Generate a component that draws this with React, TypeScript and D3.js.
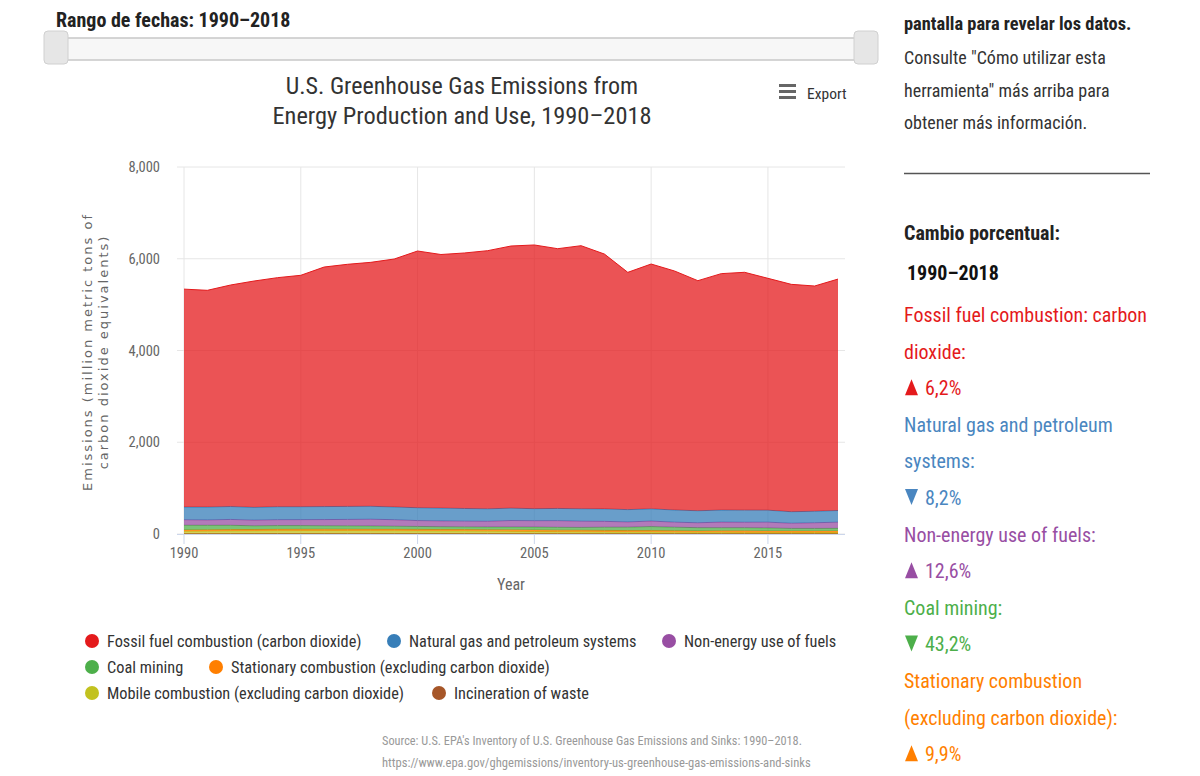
import React from "react";
import * as d3 from "d3";

// Emissions in million metric tons CO2 equivalent, 1990–2018
const years = d3.range(1990, 2019);

const fossilFuelCO2 = [4750, 4725, 4829, 4934, 4993, 5045, 5222, 5277, 5318, 5405, 5596, 5528, 5569, 5627, 5714, 5748, 5662, 5735, 5555, 5172, 5337, 5210, 5015, 5154, 5184, 5054, 4956, 4910, 5045];
const naturalGasPetroleum = [277, 280, 282, 278, 282, 281, 283, 284, 282, 277, 280, 279, 276, 272, 270, 262, 266, 270, 272, 268, 266, 265, 262, 262, 264, 261, 251, 251, 254];
const nonEnergyUse = [120, 117, 127, 124, 129, 130, 135, 140, 146, 142, 128, 126, 125, 124, 141, 138, 145, 136, 127, 114, 120, 110, 107, 122, 119, 126, 113, 123, 135];
const coalMining = [101, 98, 94, 80, 82, 80, 75, 74, 74, 69, 64, 63, 60, 60, 62, 64, 62, 62, 70, 75, 87, 76, 70, 68, 69, 66, 57, 58, 57];
const stationaryCombustion = [30.4, 30.0, 30.6, 30.6, 30.6, 31.0, 31.8, 31.4, 31.0, 31.7, 33.1, 32.2, 32.0, 32.8, 33.5, 33.5, 32.4, 33.0, 33.2, 31.5, 33.0, 32.5, 31.0, 32.5, 33.0, 32.0, 31.5, 31.5, 33.4];
const mobileCombustion = [51, 53, 56, 58, 60, 61, 61, 60, 59, 58, 56, 53, 51, 48, 45, 42, 39, 36, 33, 31, 30, 28, 26, 25, 24, 23, 22, 21, 21];
const incineration = [8.4, 8.9, 9.5, 10.0, 10.6, 11.2, 11.8, 12.4, 11.9, 11.4, 11.6, 11.3, 12.4, 12.2, 12.1, 12.6, 12.7, 12.6, 12.3, 12.0, 11.9, 11.8, 11.1, 11.6, 11.4, 11.4, 11.3, 11.4, 11.6];

const seriesNames = [
  "Fossil fuel combustion (carbon dioxide)",
  "Natural gas and petroleum systems",
  "Non-energy use of fuels",
  "Coal mining",
  "Stationary combustion (excluding carbon dioxide)",
  "Mobile combustion (excluding carbon dioxide)",
  "Incineration of waste",
];
const seriesColors = ["#e41a1c", "#377eb8", "#984ea3", "#4daf4a", "#ff7f00", "#c2c21f", "#a65628"];
const seriesValues = [fossilFuelCO2, naturalGasPetroleum, nonEnergyUse, coalMining, stationaryCombustion, mobileCombustion, incineration];

const yTicks = [0, 2000, 4000, 6000, 8000];
const xTicks = [1990, 1995, 2000, 2005, 2010, 2015];

// Percent change 1990–2018 panel entries
const changeLines = [
  { lines: ["Fossil fuel combustion: carbon", "dioxide:"], dir: "up", pct: "6,2%", color: "#e41a1c" },
  { lines: ["Natural gas and petroleum", "systems:"], dir: "down", pct: "8,2%", color: "#4a86c0" },
  { lines: ["Non-energy use of fuels:"], dir: "up", pct: "12,6%", color: "#984ea3" },
  { lines: ["Coal mining:"], dir: "down", pct: "43,2%", color: "#4daf4a" },
  { lines: ["Stationary combustion", "(excluding carbon dioxide):"], dir: "up", pct: "9,9%", color: "#ff7f00" },
];

const FONT = "'Liberation Sans Narrow', 'Roboto Condensed', 'Arial Narrow', sans-serif";

export default function App() {
  const plotLeft = 177;
  const plotRight = 845;
  const plotTop = 167;
  const plotBottom = 534;

  const x = d3.scaleLinear().domain([1990, 2018]).range([184, 838]);
  const y = d3.scaleLinear().domain([0, 8000]).range([plotBottom, plotTop]);

  // stack with the smallest series at the bottom
  const rows = years.map((yr, i) => {
    const r: Record<string, number> = { year: yr };
    seriesNames.forEach((n, k) => (r[n] = seriesValues[k][i]));
    return r;
  });
  const order = [...seriesNames].reverse();
  const stacked = d3.stack<Record<string, number>>().keys(order)(rows);

  const area = d3
    .area<d3.SeriesPoint<Record<string, number>>>()
    .x((d) => x(d.data.year))
    .y0((d) => y(d[0]))
    .y1((d) => y(d[1]));
  const line = d3
    .line<d3.SeriesPoint<Record<string, number>>>()
    .x((d) => x(d.data.year))
    .y((d) => y(d[1]));

  const legendItems = [
    { i: 0, cx: 92, ty: 641 },
    { i: 1, cx: 394, ty: 641 },
    { i: 2, cx: 669, ty: 641 },
    { i: 3, cx: 92, ty: 667 },
    { i: 4, cx: 216, ty: 667 },
    { i: 5, cx: 92, ty: 693 },
    { i: 6, cx: 439, ty: 693 },
  ];

  let panelY = 322;
  const lineGap = 36.6;

  return (
    <svg
      width={1200}
      height={776}
      style={{ position: "absolute", left: 0, top: 0, background: "#fff" }}
      fontFamily={FONT}
    >
      {/* date range header and slider */}
      <text x={56} y={27} fontSize={20} fontWeight="bold" fill="#222">
        Rango de fechas: 1990–2018
      </text>
      <rect x={56} y={38} width={810} height={22} fill="#f7f7f7" stroke="#c8c8c8" strokeWidth={1.5} />
      <rect x={44} y={31} width={24} height={33} rx={4} fill="#e6e6e6" stroke="#d0d0d0" />
      <rect x={854} y={31} width={24} height={33} rx={4} fill="#e6e6e6" stroke="#d0d0d0" />

      {/* title */}
      <text x={462} y={94} fontSize={24} fill="#333" textAnchor="middle">
        U.S. Greenhouse Gas Emissions from
      </text>
      <text x={462} y={124} fontSize={24.4} fill="#333" textAnchor="middle">
        Energy Production and Use, 1990–2018
      </text>

      {/* export menu */}
      <g fill="#666">
        <rect x={779} y={84} width={17} height={3} />
        <rect x={779} y={90} width={17} height={3} />
        <rect x={779} y={96} width={17} height={3} />
      </g>
      <text x={807} y={99} fontSize={15.5} fill="#333">
        Export
      </text>

      {/* grid */}
      {yTicks.map((t) => (
        <line key={"gy" + t} x1={plotLeft} x2={plotRight} y1={y(t)} y2={y(t)} stroke="#e6e6e6" />
      ))}
      {xTicks.map((t) => (
        <line key={"gx" + t} x1={x(t)} x2={x(t)} y1={plotTop} y2={plotBottom} stroke="#e6e6e6" />
      ))}

      {/* stacked areas */}
      {stacked.map((s) => {
        const k = seriesNames.indexOf(s.key);
        return (
          <g key={s.key}>
            <path d={area(s) || ""} fill={seriesColors[k]} fillOpacity={0.75} />
            <path d={line(s) || ""} fill="none" stroke={seriesColors[k]} strokeWidth={1} />
          </g>
        );
      })}

      {/* axes */}
      <line x1={plotLeft} x2={plotRight} y1={plotBottom + 0.5} y2={plotBottom + 0.5} stroke="#ccd6eb" />
      {xTicks.map((t) => (
        <g key={"xt" + t}>
          <line x1={x(t)} x2={x(t)} y1={plotBottom} y2={plotBottom + 10} stroke="#ccd6eb" />
          <text x={x(t)} y={558} fontSize={14.5} fill="#666" textAnchor="middle">
            {t}
          </text>
        </g>
      ))}
      {yTicks.map((t) => (
        <text key={"yt" + t} x={160} y={y(t) + 5} fontSize={14.5} fill="#666" textAnchor="end">
          {d3.format(",")(t)}
        </text>
      ))}
      <text x={511} y={590} fontSize={16} fill="#666" textAnchor="middle">
        Year
      </text>
      <g transform="translate(92,352) rotate(-90)" fontFamily="'DejaVu Sans', sans-serif" fontSize={13} fill="#666" textAnchor="middle" letterSpacing={2}>
        <text x={0} y={0}>Emissions (million metric tons of</text>
        <text x={0} y={16}>carbon dioxide equivalents)</text>
      </g>

      {/* legend */}
      {legendItems.map((it) => (
        <g key={"lg" + it.i}>
          <circle cx={it.cx} cy={it.ty} r={7} fill={seriesColors[it.i]} />
          <text x={it.cx + 15} y={it.ty + 5.5} fontSize={16.3} fill="#333">
            {seriesNames[it.i]}
          </text>
        </g>
      ))}

      {/* source */}
      <text x={382} y={745} fontSize={12.3} fill="#999">
        Source: U.S. EPA's Inventory of U.S. Greenhouse Gas Emissions and Sinks: 1990–2018.
      </text>
      <text x={382} y={767} fontSize={12.6} fill="#999">
        https://www.epa.gov/ghgemissions/inventory-us-greenhouse-gas-emissions-and-sinks
      </text>

      {/* side panel */}
      <text x={904} y={30} fontSize={18.4} fontWeight="bold" fill="#222">
        pantalla para revelar los datos.
      </text>
      <text x={904} y={64} fontSize={18} fill="#333">
        Consulte "Cómo utilizar esta
      </text>
      <text x={904} y={97} fontSize={18} fill="#333">
        herramienta" más arriba para
      </text>
      <text x={904} y={129} fontSize={18} fill="#333">
        obtener más información.
      </text>
      <line x1={904} x2={1150} y1={173.5} y2={173.5} stroke="#555" strokeWidth={1.5} />
      <text x={904} y={240} fontSize={20} fontWeight="bold" fill="#222">
        Cambio porcentual:
      </text>
      <text x={907} y={280} fontSize={20} fontWeight="bold" fill="#111">
        1990–2018
      </text>
      {changeLines.map((c, ci) => {
        const start = panelY;
        panelY += lineGap * (c.lines.length + 1);
        const arrowY = start + lineGap * c.lines.length;
        return (
          <g key={"ch" + ci} fill={c.color} fontSize={20}>
            {c.lines.map((l, li) => (
              <text key={li} x={904} y={start + li * lineGap}>
                {l}
              </text>
            ))}
            <path
              d={
                c.dir === "up"
                  ? `M905,${arrowY} L918,${arrowY} L911.5,${arrowY - 16} Z`
                  : `M905,${arrowY - 16} L918,${arrowY - 16} L911.5,${arrowY} Z`
              }
            />
            <text x={925} y={arrowY}>
              {c.pct}
            </text>
          </g>
        );
      })}
    </svg>
  );
}
